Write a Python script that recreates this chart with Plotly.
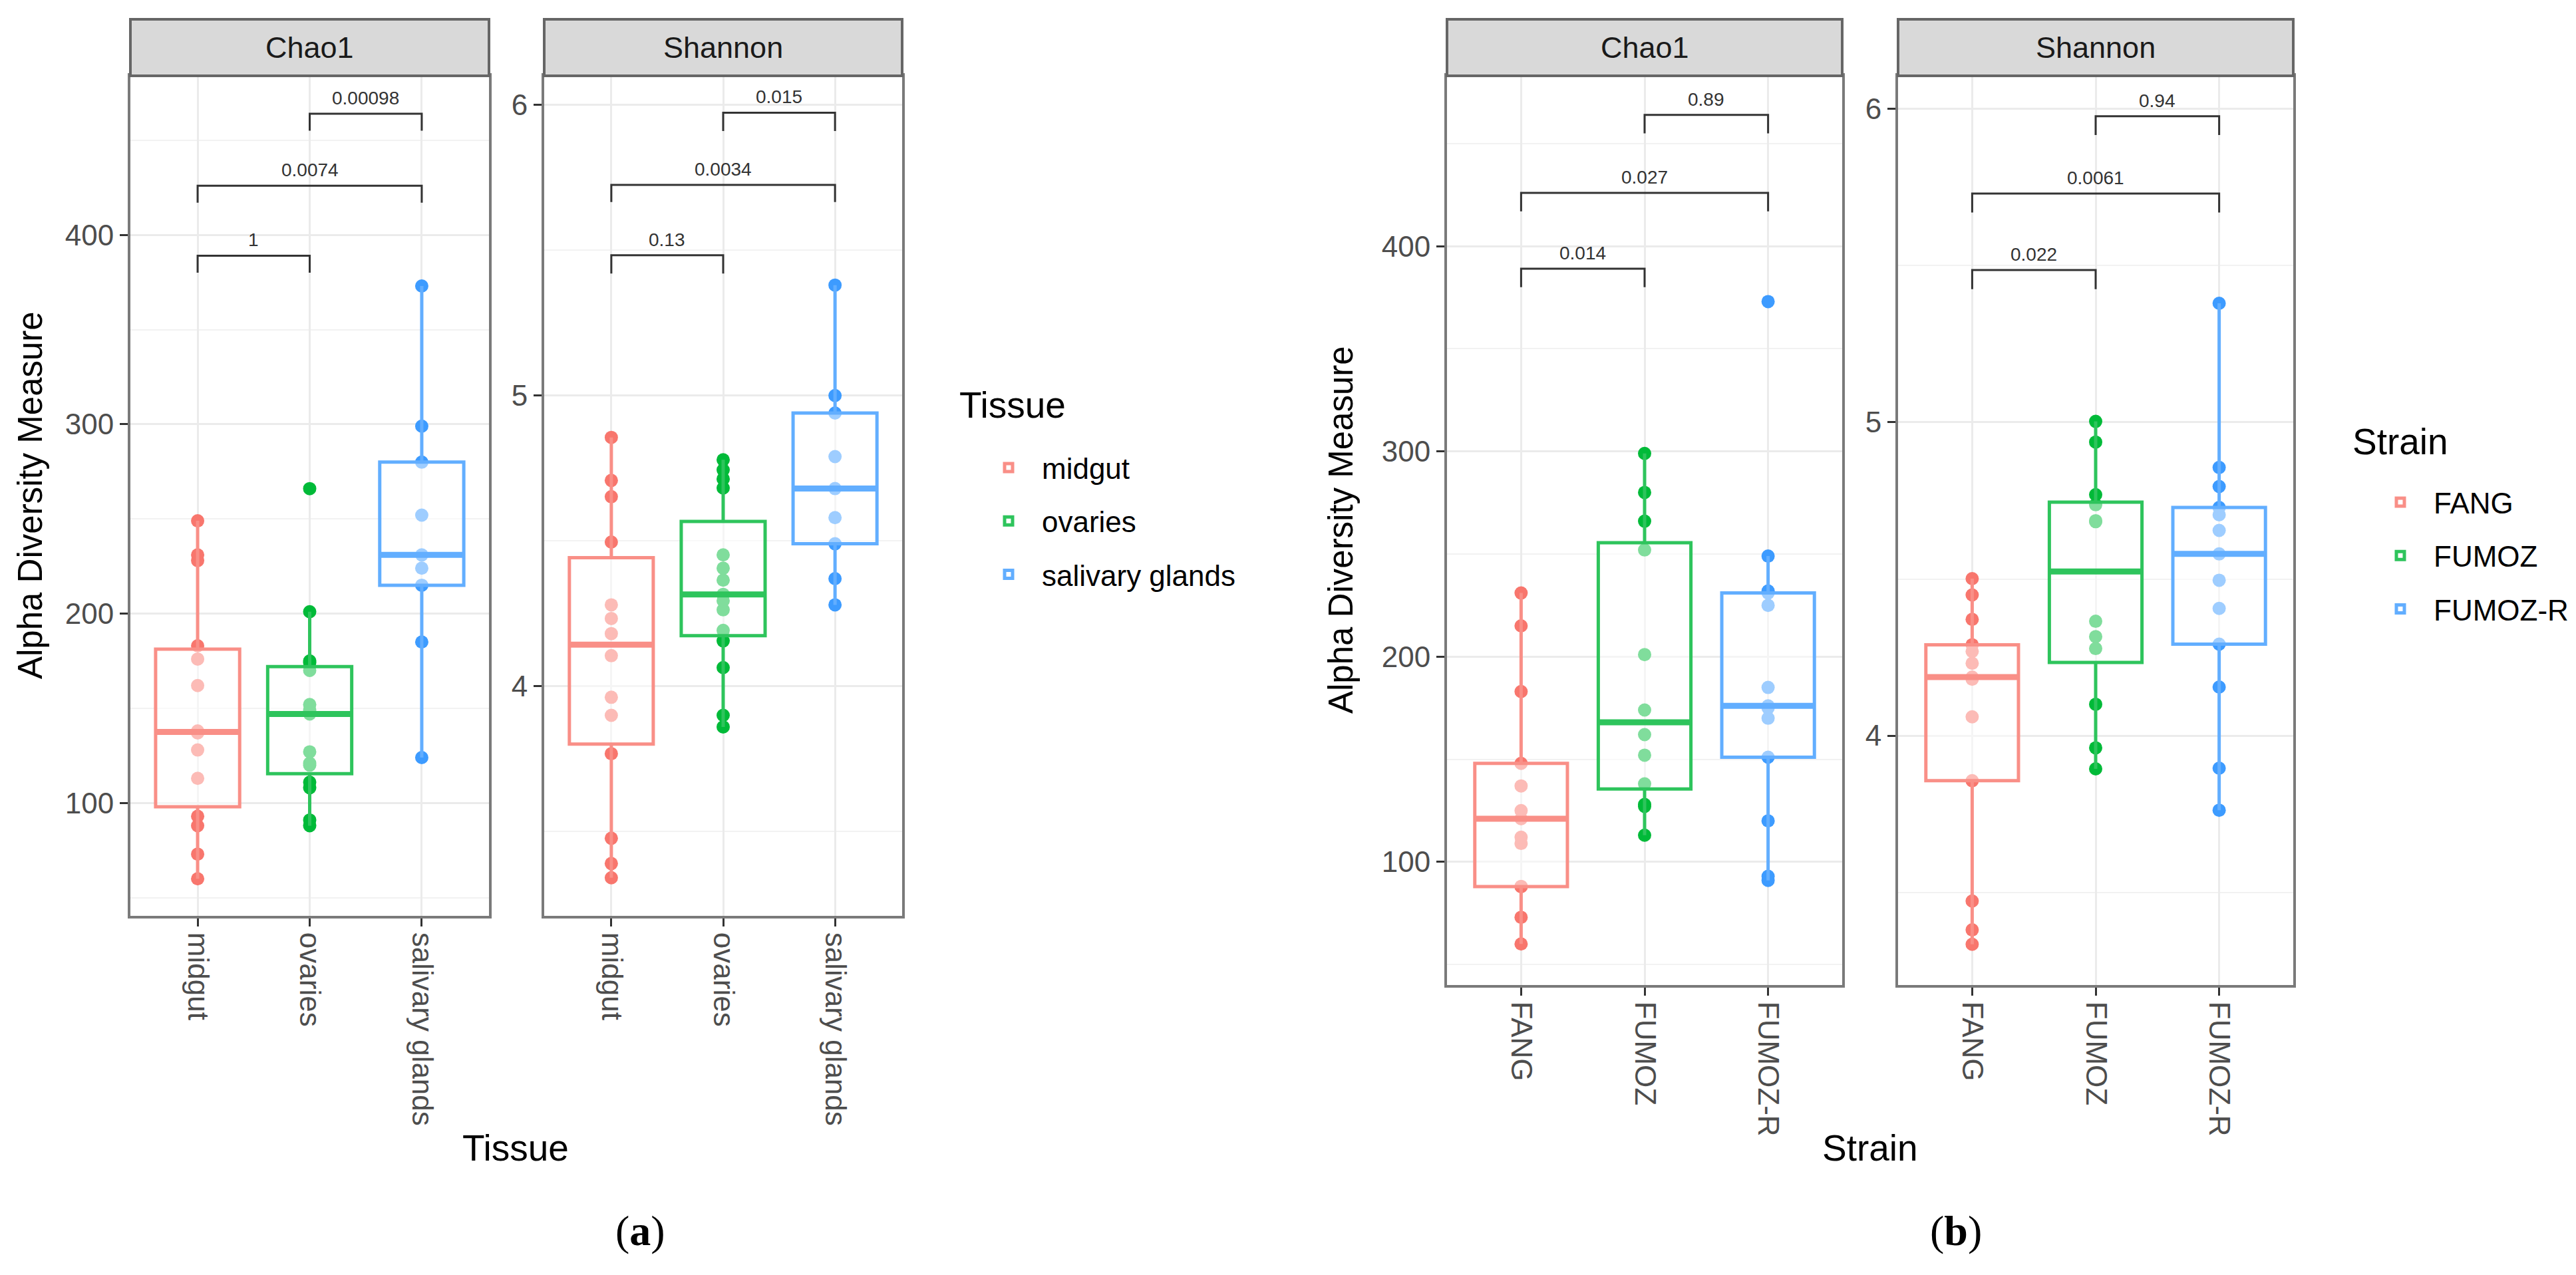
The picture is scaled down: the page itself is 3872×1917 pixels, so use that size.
import numpy as np
import plotly.graph_objects as go

# ---------------- data ----------------
tissues = ["midgut", "ovaries", "salivary glands"]
strains = ["FANG", "FUMOZ", "FUMOZ-R"]

# (a) by tissue
chao1_midgut = [60, 73, 88, 93, 113, 128, 137, 138, 162, 176, 183, 228, 231, 249]
chao1_ovaries = [88, 91, 108, 111, 120, 121, 127, 147, 149, 152, 170, 174, 175, 201, 266]
chao1_salivary = [124, 185, 215, 224, 231, 252, 280, 299, 373]
shannon_midgut = [3.341, 3.39, 3.477, 3.768, 3.90, 3.962, 4.105, 4.181, 4.233, 4.28, 4.496, 4.652, 4.708, 4.856]
shannon_ovaries = [3.86, 3.90, 4.064, 4.156, 4.192, 4.263, 4.294, 4.316, 4.365, 4.406, 4.452, 4.682, 4.713, 4.744, 4.779]
shannon_salivary = [4.28, 4.37, 4.49, 4.58, 4.68, 4.79, 4.94, 5.00, 5.38]

# (b) by strain
chao1_fang = [60, 73, 88, 88, 109, 112, 121, 125, 137, 148, 183, 215, 231]
chao1_fumoz = [113, 127, 128, 138, 152, 162, 174, 201, 252, 266, 280, 299]
chao1_fumozr = [91, 93, 120, 151, 170, 175, 176, 185, 225, 231, 232, 249, 373]
shannon_fang = [3.334, 3.38, 3.472, 3.856, 4.06, 4.18, 4.187, 4.231, 4.269, 4.29, 4.371, 4.449, 4.501]
shannon_fumoz = [3.894, 3.961, 4.10, 4.278, 4.316, 4.365, 4.683, 4.686, 4.737, 4.769, 4.937, 5.003]
shannon_fumozr = [3.762, 3.896, 4.155, 4.292, 4.406, 4.496, 4.58, 4.655, 4.705, 4.728, 4.795, 4.856, 5.38]

# significance brackets: (group1, group2, bar y, tip y, p-value label)
brackets_a_chao1 = [("midgut", "ovaries", 389, 380, "1"),
                    ("midgut", "salivary glands", 426, 417, "0.0074"),
                    ("ovaries", "salivary glands", 464, 455, "0.00098")]
brackets_a_shannon = [("midgut", "ovaries", 5.483, 5.42, "0.13"),
                      ("midgut", "salivary glands", 5.725, 5.666, "0.0034"),
                      ("ovaries", "salivary glands", 5.973, 5.91, "0.015")]
brackets_b_chao1 = [("FANG", "FUMOZ", 389, 380, "0.014"),
                    ("FANG", "FUMOZ-R", 426, 417, "0.027"),
                    ("FUMOZ", "FUMOZ-R", 464, 455, "0.89")]
brackets_b_shannon = [("FANG", "FUMOZ", 5.486, 5.425, "0.022"),
                      ("FANG", "FUMOZ-R", 5.73, 5.67, "0.0061"),
                      ("FUMOZ", "FUMOZ-R", 5.977, 5.917, "0.94")]

# ---------------- style ----------------
W, H = 3872, 1917
FONT = "Liberation Sans, Arial, sans-serif"
point_colors = ["#F8766D", "#00BA38", "#3D9BFF"]
line_colors = ["#F98F87", "#2EC45C", "#62AEFF"]
GRID = "#EBEBEB"
BORDER = "#7A7A7A"


def fx(p):
    return p / W


def fy(p):
    return 1 - p / H


def box_stats(vals):
    v = np.asarray(vals, dtype=float)
    q1, med, q3 = np.percentile(v, [25, 50, 75])
    iqr = q3 - q1
    lo = v[v >= q1 - 1.5 * iqr].min()
    hi = v[v <= q3 + 1.5 * iqr].max()
    return q1, med, q3, lo, hi


panels = [
    dict(n="", cats=tissues, groups=[chao1_midgut, chao1_ovaries, chao1_salivary],
         xd=(196, 735), yd=(114, 1377), yr=[40.4, 484], dtick=100, minor=50,
         br=brackets_a_chao1, strip="Chao1", legend="legend", showleg=True),
    dict(n="2", cats=tissues, groups=[shannon_midgut, shannon_ovaries, shannon_salivary],
         xd=(818, 1356), yd=(114, 1377), yr=[3.21, 6.10], dtick=1, minor=0.5,
         br=brackets_a_shannon, strip="Shannon", legend="legend", showleg=False),
    dict(n="3", cats=strains, groups=[chao1_fang, chao1_fumoz, chao1_fumozr],
         xd=(2175, 2769), yd=(114, 1481), yr=[40.0, 483], dtick=100, minor=50,
         br=brackets_b_chao1, strip="Chao1", legend="legend2", showleg=True),
    dict(n="4", cats=strains, groups=[shannon_fang, shannon_fumoz, shannon_fumozr],
         xd=(2853, 3447), yd=(114, 1481), yr=[3.204, 6.106], dtick=1, minor=0.5,
         br=brackets_b_shannon, strip="Shannon", legend="legend2", showleg=False),
]

fig = go.Figure()
shapes = []
annotations = []

for p in panels:
    xa, ya = "x" + p["n"], "y" + p["n"]
    for gi, (cat, vals) in enumerate(zip(p["cats"], p["groups"])):
        # data points (drawn first, under the translucent box)
        fig.add_trace(go.Box(
            x=[cat] * len(vals), y=vals, xaxis=xa, yaxis=ya,
            boxpoints="all", jitter=0, pointpos=0, width=0.75,
            fillcolor="rgba(0,0,0,0)", line=dict(width=0, color=point_colors[gi]),
            marker=dict(color=point_colors[gi], size=20, opacity=1),
            whiskerwidth=0, showlegend=False, hoverinfo="skip",
            legend=p["legend"], legendgroup=cat))
        q1, med, q3, lo, hi = box_stats(vals)
        fig.add_trace(go.Box(
            x=[cat], q1=[q1], median=[med], q3=[q3], lowerfence=[lo], upperfence=[hi],
            xaxis=xa, yaxis=ya, orientation="v", width=0.75, boxpoints=False,
            fillcolor="rgba(255,255,255,0.5)", line=dict(width=5, color=line_colors[gi]),
            whiskerwidth=0, name=cat, showlegend=p["showleg"], legend=p["legend"],
            legendgroup=cat, hoverinfo="skip"))
        # thicker median bar
        fig.add_trace(go.Box(
            x=[cat], q1=[med], median=[med], q3=[med], lowerfence=[med], upperfence=[med],
            xaxis=xa, yaxis=ya, orientation="v", width=0.75, boxpoints=False,
            fillcolor="rgba(0,0,0,0)", line=dict(width=9, color=line_colors[gi]),
            whiskerwidth=0, showlegend=False, legend=p["legend"], legendgroup=cat,
            hoverinfo="skip"))
    # significance brackets
    for g1, g2, ybar, ytip, lab in p["br"]:
        fig.add_trace(go.Scatter(
            x=[g1, g1, g2, g2], y=[ytip, ybar, ybar, ytip], xaxis=xa, yaxis=ya,
            mode="lines", line=dict(color="#333333", width=3),
            showlegend=False, hoverinfo="skip"))
        i1, i2 = p["cats"].index(g1), p["cats"].index(g2)
        annotations.append(dict(
            x=(i1 + i2) / 2, y=ybar, xref=xa, yref=ya, text=lab, showarrow=False,
            yanchor="bottom", yshift=6, font=dict(family=FONT, size=28, color="#333333")))
    # axes
    fig.layout["xaxis" + p["n"]] = dict(
        domain=[fx(p["xd"][0]), fx(p["xd"][1])], anchor=ya, type="category",
        categoryorder="array", categoryarray=p["cats"], range=[-0.6, 2.6],
        showgrid=True, gridcolor=GRID, gridwidth=3, zeroline=False,
        showline=True, mirror=True, linecolor=BORDER, linewidth=4,
        ticks="outside", ticklen=12, tickwidth=3, tickcolor="#333333",
        tickangle=90, tickfont=dict(family=FONT, size=44, color="#4D4D4D"))
    fig.layout["yaxis" + p["n"]] = dict(
        domain=[fy(p["yd"][1]), fy(p["yd"][0])], anchor=xa, range=p["yr"],
        tick0=0, dtick=p["dtick"], showgrid=True, gridcolor=GRID, gridwidth=3,
        minor=dict(dtick=p["minor"], tick0=0, showgrid=True, gridcolor="#F2F2F2",
                   gridwidth=2, ticks=""),
        zeroline=False, showline=True, mirror=True, linecolor=BORDER, linewidth=4,
        ticks="outside", ticklen=12, tickwidth=3, tickcolor="#333333",
        tickfont=dict(family=FONT, size=44, color="#4D4D4D"))
    # facet strip
    shapes.append(dict(type="rect", xref="paper", yref="paper",
                       x0=fx(p["xd"][0]), x1=fx(p["xd"][1]), y0=fy(114), y1=fy(29),
                       fillcolor="#D9D9D9", line=dict(color="#666666", width=4), layer="above"))
    annotations.append(dict(x=fx((p["xd"][0] + p["xd"][1]) / 2), y=fy(71.5),
                            xref="paper", yref="paper", text=p["strip"], showarrow=False,
                            xanchor="center", yanchor="middle",
                            font=dict(family=FONT, size=45, color="#1A1A1A")))

# axis titles, legend titles and panel labels
for txt, x, y, size, ang, xanc in [("Alpha Diversity Measure", 45, 745, 51, -90, "center"),
                                   ("Alpha Diversity Measure", 2015, 797, 51, -90, "center"),
                                   ("Tissue", 775, 1726, 55, 0, "center"),
                                   ("Strain", 2811, 1726, 55, 0, "center"),
                                   ("Tissue", 1440, 609, 55, 0, "left"),
                                   ("Strain", 3534, 664, 55, 0, "left")]:
    annotations.append(dict(x=fx(x), y=fy(y), xref="paper", yref="paper", text=txt,
                            showarrow=False, textangle=ang, xanchor=xanc, yanchor="middle",
                            font=dict(family=FONT, size=size, color="#000000")))
for txt, x in [("(<b>a</b>)", 962), ("(<b>b</b>)", 2940)]:
    annotations.append(dict(x=fx(x), y=fy(1850), xref="paper", yref="paper", text=txt,
                            showarrow=False, xanchor="center", yanchor="middle",
                            font=dict(family="Liberation Serif, DejaVu Serif, serif", size=64,
                                      color="#000000")))

legend_common = dict(xanchor="left", yanchor="top", bgcolor="rgba(0,0,0,0)",
                     font=dict(family=FONT, size=44, color="#000000"),
                     itemwidth=90, tracegroupgap=20, traceorder="grouped")
fig.update_layout(
    width=W, height=H, margin=dict(l=0, r=0, t=0, b=0),
    paper_bgcolor="white", plot_bgcolor="white", boxmode="overlay",
    shapes=shapes, annotations=annotations,
    legend=dict(x=fx(1466), y=fy(668), **legend_common),
    legend2=dict(x=fx(3558), y=fy(720), **legend_common),
)

fig.write_html("out.html", include_plotlyjs=True, config={"displayModeBar": False},
               post_script="document.body.style.margin='0';document.body.style.overflow='hidden';")
